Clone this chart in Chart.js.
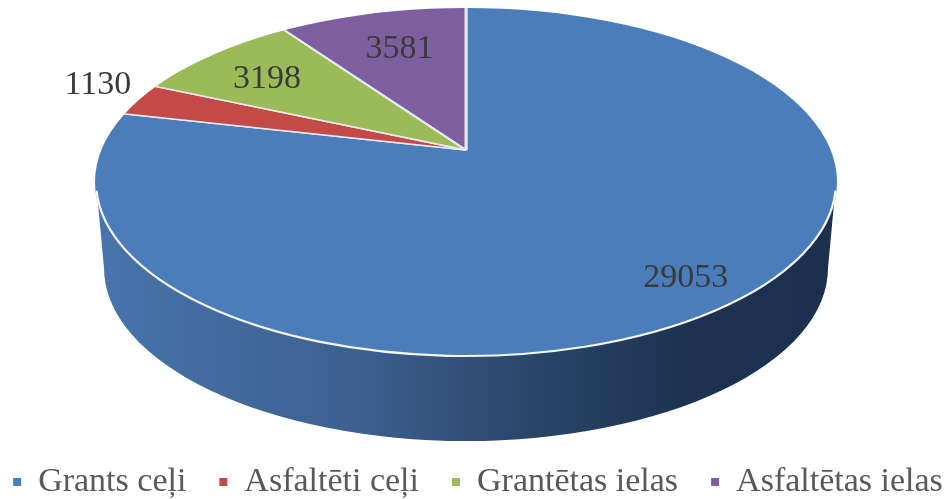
<!DOCTYPE html>
<html>
<head>
<meta charset="utf-8">
<script src="https://cdn.jsdelivr.net/npm/chart.js@4"></script>
<style>
  html, body { margin: 0; padding: 0; background: #fff; }
  canvas { display: block; filter: blur(0.5px); }
</style>
</head>
<body>
<canvas id="pie" width="947" height="499"></canvas>
<script>
const categories = ['Grants ceļi', 'Asfaltēti ceļi', 'Grantētas ielas', 'Asfaltētas ielas'];
const values = [29053, 1130, 3198, 3581];
const colors = ['#4b7dba', '#c44a47', '#9bbb59', '#7d5fa0'];

// the original is a tilted 3D pie: the wedges meet above the middle of the top ellipse
const hub = { x: 466, y: 150, squash: 0.46 };
const top3d = { x: 466, y: 182, rx: 371, ry: 174 };
const bottom3d = { x: 466, y: 268, rx: 362, ry: 173 };
const labelDist = [353, 388, 258, 222];
const labelShiftY = [1, -8, 5, -3];

const pie3d = {
  id: 'pie3d',
  beforeDatasetsDraw(chart) {
    const ctx = chart.ctx;
    const arc = chart.getDatasetMeta(0).data[0];

    // side wall
    const grad = ctx.createLinearGradient(top3d.x - top3d.rx, 0, top3d.x + top3d.rx, 0);
    grad.addColorStop(0, '#4775ac');
    grad.addColorStop(0.35, '#3d6090');
    grad.addColorStop(0.6, '#2a4468');
    grad.addColorStop(0.8, '#1d3252');
    grad.addColorStop(1, '#1c2f4e');
    ctx.save();
    ctx.beginPath();
    ctx.moveTo(top3d.x - top3d.rx + 1, top3d.y);
    ctx.lineTo(bottom3d.x - bottom3d.rx, bottom3d.y);
    ctx.ellipse(bottom3d.x, bottom3d.y, bottom3d.rx, bottom3d.ry, 0, Math.PI, 0, true);
    ctx.lineTo(top3d.x + top3d.rx - 1, top3d.y);
    ctx.closePath();
    ctx.fillStyle = grad;
    ctx.fill();
    ctx.restore();

    // top face, the arcs get cut to the ellipse
    ctx.save();
    ctx.beginPath();
    ctx.ellipse(top3d.x, top3d.y, top3d.rx, top3d.ry, 0, 0, Math.PI * 2);
    ctx.clip();
    ctx.translate(hub.x, hub.y);
    ctx.scale(1, hub.squash);
    ctx.translate(-arc.x, -arc.y);
  },
  afterDatasetsDraw(chart) {
    const ctx = chart.ctx;
    ctx.restore();

    // white seam between top and wall
    ctx.save();
    ctx.beginPath();
    ctx.ellipse(top3d.x, top3d.y, top3d.rx - 1, top3d.ry, 0, 0.05, Math.PI - 0.05);
    ctx.strokeStyle = '#f4f7fb';
    ctx.lineWidth = 2.2;
    ctx.stroke();
    ctx.restore();

    // value labels
    const total = values.reduce((a, b) => a + b, 0);
    let start = 0;
    ctx.save();
    ctx.font = '34px "Liberation Serif"';
    ctx.fillStyle = '#3a3a3a';
    ctx.textAlign = 'center';
    ctx.textBaseline = 'middle';
    values.forEach((v, i) => {
      const mid = start + (v / total) * Math.PI;
      start += (v / total) * Math.PI * 2;
      const x = hub.x + labelDist[i] * Math.sin(mid);
      const y = hub.y - labelDist[i] * hub.squash * Math.cos(mid) + labelShiftY[i];
      ctx.fillText(String(v), x, y);
    });
    ctx.restore();
  }
};

new Chart(document.getElementById('pie'), {
  type: 'pie',
  data: {
    labels: categories,
    datasets: [{
      data: values,
      backgroundColor: colors,
      borderColor: '#e6e9f0',
      borderWidth: 3,
      clip: false
    }]
  },
  options: {
    responsive: false,
    animation: false,
    radius: 460,
    events: [],
    // negative padding lets the wide legend run almost edge to edge on one row
    layout: { padding: { left: -45, right: -54, bottom: -10 } },
    plugins: {
      tooltip: { enabled: false },
      legend: {
        position: 'bottom',
        labels: {
          usePointStyle: true,
          pointStyle: 'rect',
          boxWidth: 8,
          boxHeight: 8,
          pointStyleWidth: 8,
          padding: 33,
          color: '#595959',
          font: { family: '"Liberation Serif"', size: 34 },
          generateLabels(chart) {
            return Chart.overrides.pie.plugins.legend.labels.generateLabels(chart)
              .map(l => ({ ...l, strokeStyle: l.fillStyle, lineWidth: 0 }));
          }
        }
      }
    }
  },
  plugins: [pie3d]
});
</script>
</body>
</html>
